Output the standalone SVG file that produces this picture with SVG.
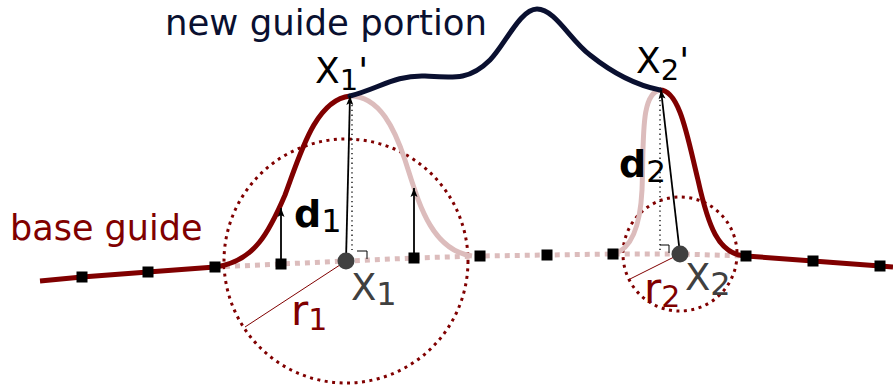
<svg xmlns="http://www.w3.org/2000/svg" width="893" height="387" viewBox="0 0 893 387">
<style>
text{font-family:"DejaVu Sans",sans-serif;}
.base{fill:none;stroke:#800000;stroke-width:5;}
.faded{fill:none;stroke:#dcbcbc;stroke-width:5;}
.dash{fill:none;stroke:#dcbcbc;stroke-width:5;stroke-dasharray:5 5;}
.new{fill:none;stroke:#0a1030;stroke-width:5;stroke-linecap:round;}
.circ{fill:none;stroke:#800000;stroke-width:3;stroke-dasharray:3 4.5;}
.arr{fill:none;stroke:#000;stroke-width:1.8;marker-end:url(#ah);}
.dot{fill:none;stroke:#000;stroke-width:1.3;stroke-dasharray:1.3 3.5;}
.ra{fill:none;stroke:#000;stroke-width:1;}
.rad{fill:none;stroke:#800000;stroke-width:1;}
.sq{fill:#000;}
</style>
<defs>
<marker id="ah" markerWidth="12" markerHeight="12" viewBox="0 0 12 12" refX="10" refY="6" orient="auto" markerUnits="userSpaceOnUse">
<path d="M1,2.5 L10,6 L1,9.5 L3,6 z" fill="#000"/>
</marker>
</defs>
<g id="circles">
<circle cx="346" cy="261" r="122" class="circ"/>
<circle cx="680" cy="254" r="57" class="circ"/>
</g>
<g id="connectors">
<path class="dash" d="M215,267 L281,264 L347,261 L414,258 L480,256 L547,255 L613,254 L680,254 L746,256"/>
<path class="faded" d="M350,96 C380,96 395,130 405,160 C418,200 430,250 472,256"/>
<path class="faded" d="M613,254 C630,250 640,230 642,190 C644,140 640,92 661,90"/>
<path class="base" d="M40,281 L82,277 L148,272 L215,267 C255,262 270,230 285,195 C300,155 315,100 350,96"/>
<path class="base" d="M660,90 C680,90 688,140 698,180 C708,225 718,255 746,256 L813,261 L880,266 L893,267"/>
<path class="new" d="M350,96 C380,88 395,75 425,76 C455,78 470,80 490,60 C505,45 520,9 537,9 C555,9 570,40 590,55 C615,75 640,86 660,90"/>
<line class="rad" x1="346" y1="261" x2="245" y2="327"/>
<line class="rad" x1="680" y1="254" x2="628" y2="280"/>
<line class="dot" x1="352" y1="105" x2="352" y2="250"/>
<line class="dot" x1="660" y1="100" x2="660" y2="250"/>
<path class="ra" d="M357,251 H367 V259"/>
<path class="ra" d="M660,245 H669 V253"/>
<line class="arr" x1="346" y1="261" x2="350" y2="96"/>
<line class="arr" x1="680" y1="254" x2="661" y2="90"/>
<line class="arr" x1="281" y1="262" x2="281" y2="208"/>
<line class="arr" x1="414" y1="256" x2="414" y2="188"/>
</g>
<g id="squares">
<rect class="sq" x="76.5" y="271.5" width="11" height="11"/>
<rect class="sq" x="142.5" y="266.5" width="11" height="11"/>
<rect class="sq" x="209.5" y="261.5" width="11" height="11"/>
<rect class="sq" x="275.5" y="258.5" width="11" height="11"/>
<rect class="sq" x="408.5" y="252.5" width="11" height="11"/>
<rect class="sq" x="474.5" y="250.5" width="11" height="11"/>
<rect class="sq" x="541.5" y="249.5" width="11" height="11"/>
<rect class="sq" x="607.5" y="248.5" width="11" height="11"/>
<rect class="sq" x="740.5" y="250.5" width="11" height="11"/>
<rect class="sq" x="807.5" y="255.5" width="11" height="11"/>
<rect class="sq" x="874.5" y="260.5" width="11" height="11"/>
</g>
<g id="X1">
<circle cx="346" cy="261" r="8.5" fill="#404040"/>
<text x="351" y="300" font-size="37" fill="#404040">X<tspan font-size="32" dy="5">1</tspan></text>
</g>
<g id="X2">
<circle cx="680" cy="254" r="8.5" fill="#404040"/>
<text x="685" y="290" font-size="37" fill="#404040">X<tspan font-size="32" dy="5">2</tspan></text>
</g>
<g id="labels">
<text x="165" y="35" font-size="35.5" fill="#0a1030">new guide portion</text>
<text x="10" y="240" font-size="35" fill="#800000">base guide</text>
<text x="315" y="83" font-size="36" fill="#000">X<tspan font-size="29" dy="7">1</tspan><tspan dy="-7">'</tspan></text>
<text x="636" y="73" font-size="36" fill="#000">X<tspan font-size="29" dy="7">2</tspan><tspan dy="-7">'</tspan></text>
<text x="294" y="227" font-size="38" font-weight="bold" fill="#000">d<tspan font-size="32" font-weight="normal" dy="5">1</tspan></text>
<text x="619" y="177" font-size="38" font-weight="bold" fill="#000">d<tspan font-size="31" font-weight="normal" dy="5">2</tspan></text>
<text x="291" y="325" font-size="42" fill="#800000">r<tspan font-size="30" dy="5">1</tspan></text>
<text x="644" y="303" font-size="42" fill="#800000">r<tspan font-size="30" dy="4">2</tspan></text>
</g>
</svg>
